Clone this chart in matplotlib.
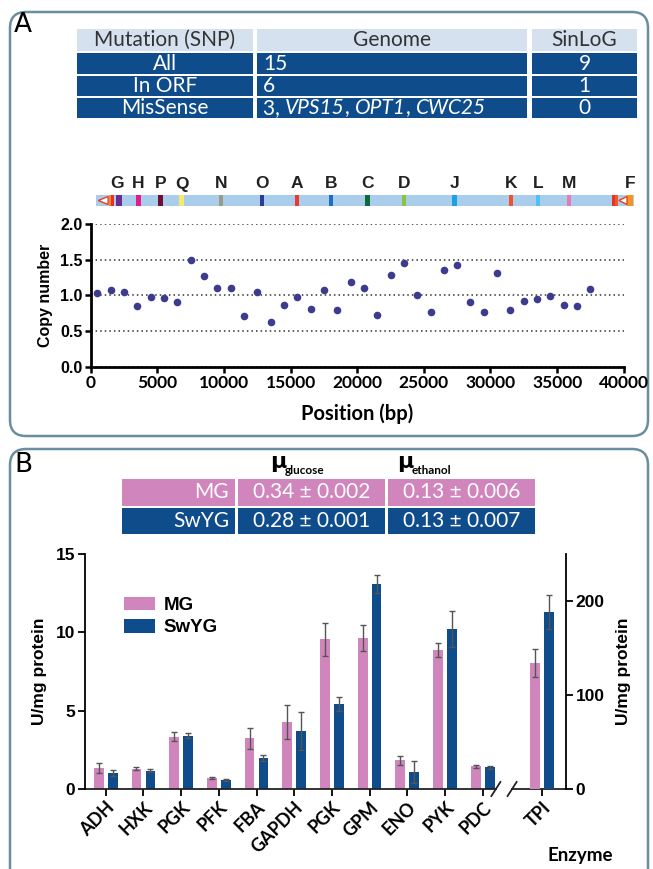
import numpy as np
import matplotlib
matplotlib.use("Agg")
import matplotlib.pyplot as plt
from matplotlib.patches import FancyBboxPatch, Rectangle, Polygon
from matplotlib.lines import Line2D

W, H = 653, 869

# ---------------- panel A data ----------------
snp_rows = ['Mutation (SNP)', 'All', 'In ORF', 'MisSense']
snp_genome = ['Genome', '15', '6', '3']
missense_genes = ['VPS15', 'OPT1', 'CWC25']
snp_sinlog = ['SinLoG', '9', '1', '0']

position_bp = [500, 1500, 2500, 3500, 4500, 5500, 6500, 7500, 8500, 9500,
               10500, 11500, 12500, 13500, 14500, 15500, 16500, 17500, 18500, 19500,
               20500, 21500, 22500, 23500, 24500, 25500, 26500, 27500, 28500, 29500,
               30500, 31500, 32500, 33500, 34500, 35500, 36500, 37500]
copy_number = [1.03, 1.07, 1.05, 0.855, 0.98, 0.96, 0.91, 1.49, 1.275, 1.10,
               1.10, 0.71, 1.04, 0.63, 0.86, 0.97, 0.81, 1.075, 0.80, 1.185,
               1.10, 0.73, 1.28, 1.46, 1.00, 0.76, 1.36, 1.43, 0.90, 0.76,
               1.31, 0.79, 0.92, 0.945, 0.985, 0.87, 0.845, 1.085]

feature_labels = ['G', 'H', 'P', 'Q', 'N', 'O', 'A', 'B', 'C', 'D', 'J', 'K', 'L', 'M', 'F']
feature_label_bp = [2000, 3580, 5255, 6810, 9775, 12850, 15470, 18030, 20790, 23510,
                    27310, 31550, 33570, 35900, 40480]
mark_bp = [1450, 1640, 2080, 3580, 5255, 6810, 9775, 12850, 15470, 18030, 20790,
           23510, 27310, 31550, 33570, 35900, 39230, 39470, 40500]
mark_width = [150, 200, 450, 350, 350, 350, 350, 350, 350, 350, 350,
              350, 350, 350, 350, 350, 250, 250, 450]
mark_colors = ['#f08a24', '#e8312a', '#6a2c91', '#e5198a', '#6b1030', '#f3ec6a',
               '#9a9a88', '#2e3b94', '#e83a2e', '#1f6fbf', '#0b6b3a', '#8cc43f',
               '#1aa3e0', '#f0502a', '#4cc3ee', '#e879b4', '#e8312a', '#f05a24', '#f7941d']

# ---------------- panel B data ----------------
strains = ['MG', 'SwYG']
mu_glucose = ['0.34 ± 0.002', '0.28 ± 0.001']
mu_ethanol = ['0.13 ± 0.006', '0.13 ± 0.007']

enzymes = ['ADH', 'HXK', 'PGK', 'PFK', 'FBA', 'GAPDH', 'PGK', 'GPM', 'ENO', 'PYK', 'PDC']
mg = [1.33, 1.29, 3.35, 0.69, 3.24, 4.27, 9.55, 9.65, 1.83, 8.88, 1.45]
mg_err = [0.3, 0.1, 0.3, 0.07, 0.66, 1.09, 1.04, 0.84, 0.3, 0.45, 0.1]
swyg = [1.03, 1.18, 3.41, 0.60, 1.95, 3.71, 5.43, 13.1, 1.09, 10.24, 1.38]
swyg_err = [0.2, 0.1, 0.18, 0.07, 0.19, 1.2, 0.44, 0.58, 0.69, 1.15, 0.12]
# TPI is read on the right axis
tpi_label = 'TPI'
tpi_mg, tpi_mg_err = 134, 15
tpi_swyg, tpi_swyg_err = 189, 18

PINK = '#d086bd'
NAVY = '#0f4c8b'
HEAD = '#d5e1ef'
FRAME = '#6b8e9e'
DOT = '#3d3b8e'

plt.rcParams['font.family'] = ['Lato', 'DejaVu Sans']

fig = plt.figure(figsize=(W / 100, H / 100), dpi=100)
renderer = fig.canvas.get_renderer()


def px_axes(l, t, r, b):
    return fig.add_axes([l / W, 1 - b / H, (r - l) / W, (b - t) / H])


# overlay in pixel units for frames and tables
ov = px_axes(0, 0, W, H)
ov.set_xlim(0, W)
ov.set_ylim(H, 0)
ov.axis('off')

for (y0, y1) in [(12, 436), (449, 900)]:
    ov.add_patch(FancyBboxPatch((10, y0), 638, y1 - y0,
                                boxstyle='round,pad=0,rounding_size=16',
                                fc='none', ec=FRAME, lw=1.8))
ov.text(14, 12, 'A', fontsize=19, va='top', ha='left', family='DejaVu Sans')
ov.text(14, 452, 'B', fontsize=19, va='top', ha='left', family='DejaVu Sans')


def cell(x0, x1, y0, y1, fc):
    ov.add_patch(Rectangle((x0, y0), x1 - x0, y1 - y0, fc=fc, ec='none'))


def text_runs(x0, y, runs, **kw):
    # place text pieces one after another (pixel units on the overlay)
    xc = x0
    for s, style in runs:
        t = ov.text(xc, y, s, style=style, ha='left', va='center', **kw)
        xc += t.get_window_extent(renderer).width


TFS = 15
# table A
cols_a = [(77, 253), (257, 527), (532, 637)]
rows_a = [(29, 51), (53, 74), (76, 96), (98, 118)]
for i, (y0, y1) in enumerate(rows_a):
    fc = HEAD if i == 0 else NAVY
    tc = '#333333' if i == 0 else 'white'
    for (x0, x1) in cols_a:
        cell(x0, x1, y0, y1, fc)
    yc = (y0 + y1) / 2
    ov.text((cols_a[0][0] + cols_a[0][1]) / 2, yc, snp_rows[i], color=tc,
            fontsize=TFS, ha='center', va='center')
    if i == 0:
        ov.text((cols_a[1][0] + cols_a[1][1]) / 2, yc, snp_genome[i], color=tc,
                fontsize=TFS, ha='center', va='center')
    elif i == 3:
        runs = [(snp_genome[i] + ', ', 'normal')]
        for k, g in enumerate(missense_genes):
            runs.append((g, 'italic'))
            if k < len(missense_genes) - 1:
                runs.append((', ', 'normal'))
        text_runs(263, yc, runs, color=tc, fontsize=TFS)
    else:
        ov.text(263, yc, snp_genome[i], color=tc, fontsize=TFS, ha='left', va='center')
    ov.text((cols_a[2][0] + cols_a[2][1]) / 2, yc, snp_sinlog[i], color=tc,
            fontsize=TFS, ha='center', va='center')

# table B
cols_b = [(122, 235), (238, 385), (388, 535)]
rows_b = [(479, 506), (508, 534)]
for i, (y0, y1) in enumerate(rows_b):
    fc = PINK if i == 0 else NAVY
    for (x0, x1) in cols_b:
        cell(x0, x1, y0, y1, fc)
    yc = (y0 + y1) / 2
    ov.text(229, yc, strains[i], color='white', fontsize=15, ha='right', va='center')
    ov.text((cols_b[1][0] + cols_b[1][1]) / 2, yc, mu_glucose[i], color='white',
            fontsize=15, ha='center', va='center')
    ov.text((cols_b[2][0] + cols_b[2][1]) / 2, yc, mu_ethanol[i], color='white',
            fontsize=15, ha='center', va='center')
for xm, sub in [(270, 'glucose'), (397, 'ethanol')]:
    ov.text(xm, 468, 'μ', fontsize=16, fontweight='bold', ha='left', va='baseline',
            family='DejaVu Sans')
    ov.text(xm + 15, 474, sub, fontsize=8.5, fontweight='bold', ha='left', va='baseline')

# ---------------- genome map ----------------
ax_g = px_axes(90.8, 170, 623.7, 212)
ax_g.set_xlim(0, 40000)
ax_g.set_ylim(212, 170)
ax_g.axis('off')
ax_g.add_patch(Rectangle((400, 195), 40350, 11, fc='#a9cdea', ec='none', clip_on=False))
for xb, wb, c in zip(mark_bp, mark_width, mark_colors):
    ax_g.add_patch(Rectangle((xb - wb / 2, 195), wb, 11, fc=c, ec='none', clip_on=False))
for tx0, tx1 in [(560, 1300), (39640, 40250)]:
    ax_g.add_patch(Polygon([(tx1, 196.5), (tx1, 204.5), (tx0, 200.5)], closed=True,
                           fc='white', ec='#e8402a', lw=1, clip_on=False))
for lab, xb in zip(feature_labels, feature_label_bp):
    ax_g.text(xb, 184, lab, fontsize=12.5, fontweight='bold', ha='center', va='center',
              color='#222222', family='Liberation Sans', clip_on=False)

# ---------------- copy number scatter ----------------
ax_a = px_axes(90.8, 224, 623.7, 366.7)
ax_a.scatter(position_bp, copy_number, s=20, color=DOT, zorder=3, clip_on=False)
ax_a.set_xlim(0, 40000)
ax_a.set_ylim(0, 2.0)
ax_a.set_yticks([0.0, 0.5, 1.0, 1.5, 2.0])
ax_a.set_yticklabels(['0.0', '0.5', '1.0', '1.5', '2.0'])
ax_a.set_xticks(np.arange(0, 40001, 5000))
ax_a.yaxis.grid(True, linestyle=(0, (1, 2)), color='#333333', lw=1.1)
ax_a.set_axisbelow(True)
for s in ['top', 'right']:
    ax_a.spines[s].set_visible(False)
for s in ['left', 'bottom']:
    ax_a.spines[s].set_linewidth(2)
ax_a.tick_params(width=1.8, length=4, direction='out', pad=2)
for t in ax_a.get_yticklabels():
    t.set_fontfamily('Liberation Sans')
    t.set_fontweight('bold')
    t.set_fontsize(11.5)
for t in ax_a.get_xticklabels():
    t.set_fontweight('bold')
    t.set_fontsize(12.5)
ax_a.set_ylabel('Copy number', fontsize=11.5, fontweight='bold', family='Liberation Sans',
                labelpad=5)
ax_a.set_xlabel('Position (bp)', fontsize=14.5, fontweight='bold', labelpad=9)

# ---------------- enzyme activity bars ----------------
x = np.arange(len(enzymes))
x_tpi = 11.57
bw = 0.26
off = 0.185
err_kw = dict(ecolor='#555555', elinewidth=1, capsize=2.5, capthick=1)

ax_b = px_axes(85, 554, 566, 789)
ax_b.bar(x - off, mg, bw, yerr=mg_err, color=PINK, error_kw=err_kw, label='MG')
ax_b.bar(x + off, swyg, bw, yerr=swyg_err, color=NAVY, error_kw=err_kw, label='SwYG')
ax_b.set_xlim(-0.55, 12.21)
ax_b.set_ylim(0, 15)
ax_b.set_yticks([0, 5, 10, 15])
ax_b.set_xticks(list(x) + [x_tpi])
ax_b.set_xticklabels(enzymes + [tpi_label], rotation=45, ha='right',
                     rotation_mode='anchor', fontsize=13, fontweight='bold')

ax_r = ax_b.twinx()
ax_r.bar([x_tpi - off], [tpi_mg], bw, yerr=[tpi_mg_err], color=PINK, error_kw=err_kw)
ax_r.bar([x_tpi + off], [tpi_swyg], bw, yerr=[tpi_swyg_err], color=NAVY, error_kw=err_kw)
ax_r.set_ylim(0, 250.5)
ax_r.set_yticks([0, 100, 200])

for a in (ax_b, ax_r):
    a.spines['top'].set_visible(False)
    a.spines['bottom'].set_visible(False)
    a.tick_params(width=1.3, length=5, direction='out', pad=2)
    for t in a.get_yticklabels():
        t.set_fontfamily('Liberation Sans')
        t.set_fontweight('bold')
        t.set_fontsize(12.5)
ax_b.spines['right'].set_visible(False)
ax_b.spines['left'].set_linewidth(1.3)
ax_r.spines['left'].set_visible(False)
ax_r.spines['right'].set_linewidth(1.3)
ax_b.tick_params(axis='x', length=5, width=1.3)

# broken x axis
tr = ax_b.get_xaxis_transform()
ax_b.add_line(Line2D([-0.55, 10.35], [0, 0], transform=tr, color='#222222', lw=1.3,
                     clip_on=False))
ax_b.add_line(Line2D([10.78, 12.21], [0, 0], transform=tr, color='#222222', lw=1.3,
                     clip_on=False))
for xs in (10.35, 10.78):
    ax_b.add_line(Line2D([xs - 0.12, xs + 0.12], [-0.03, 0.03], transform=tr,
                         color='#222222', lw=1.3, clip_on=False))

ax_b.set_ylabel('U/mg protein', fontsize=12.5, fontweight='bold',
                family='Liberation Sans', labelpad=6)
ax_r.set_ylabel('U/mg protein', fontsize=12.5, fontweight='bold',
                family='Liberation Sans', labelpad=8)
ax_b.text(580, 855, 'Enzyme', transform=ov.transData, fontsize=13.5,
          fontweight='bold', ha='center', va='center')
ax_b.legend(loc='upper left', bbox_to_anchor=(0.045, 0.89), frameon=False,
            handlelength=1.7, handleheight=0.75, handletextpad=0.45, labelspacing=0.25,
            prop={'family': 'Liberation Sans', 'weight': 'bold', 'size': 13.5})

fig.savefig('out.png', dpi=100)
